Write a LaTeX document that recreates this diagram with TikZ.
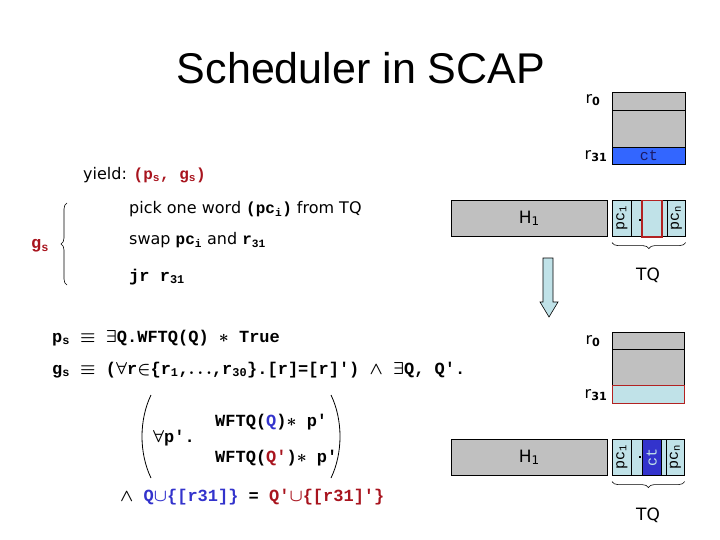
\documentclass[tikz,border=0pt]{standalone}
\usepackage{fontspec}
\setmainfont{DejaVu Sans}
\setmonofont{Liberation Mono}
\newfontfamily\titlefont{Liberation Sans}
\usetikzlibrary{decorations.pathreplacing}
\definecolor{regGray}{HTML}{C0C0C0}
\definecolor{tqBlue}{HTML}{C0E2E8}
\definecolor{ctBlue}{HTML}{3366FF}
\definecolor{ctDark}{HTML}{3333CC}
\definecolor{ctText}{HTML}{1A1A66}
\definecolor{hiRed}{HTML}{B22222}
\definecolor{txtRed}{HTML}{A8141E}
\definecolor{txtBlue}{HTML}{3333CC}
\newcommand{\code}{\ttfamily\bfseries\boldmath}
\newcommand{\sbs}[1]{\textsubscript{#1}}
\tikzset{
  cell/.style={draw, line width=0.6pt, inner sep=0pt, anchor=north west},
  gray/.style={cell, fill=regGray},
  tq/.style={cell, fill=tqBlue, font=\fontsize{15}{15}\selectfont\ttfamily},
  reglabel/.style={inner sep=0pt, font=\fontsize{16}{16}\selectfont},
  txt/.style={anchor=west, inner sep=0pt, font=\fontsize{16}{18}\selectfont},
  codeline/.style={anchor=west, inner sep=0pt, font=\fontsize{17}{19}\selectfont\code},
  brc/.style={decorate, decoration={brace, amplitude=6pt}, line width=0.6pt},
}
\begin{document}
\begin{tikzpicture}[x=1pt, y=-1pt]
  \useasboundingbox (0,0) rectangle (720,540);

  % ---- title and yield text ----------------------------------------------
  \node[inner sep=0pt, font=\fontsize{43}{43}\selectfont\titlefont] (title) at (361,68) {Scheduler in SCAP};
  \node[txt] (yield) at (83,175) {yield: {\color{txtRed}\code (p\sbs{s}, g\sbs{s})}};
  \node[txt] (pick) at (129,209) {pick one word {\code(pc\sbs{i})} from TQ};
  \node[txt] (swap) at (129,240) {swap {\code pc\sbs{i}} and {\code r\sbs{31}}};
  \node[codeline] (jr) at (129,277) {jr r\sbs{31}};
  \node[codeline, text=txtRed] (gsname) at (31,246) {g\sbs{s}};
  \draw[brc] (67,285) -- (67,203);

  % ---- registers and heap, before ----------------------------------------
  \node[gray, minimum width=73pt, minimum height=18pt] (r0a) at (612,92) {};
  \node[gray, minimum width=73pt, minimum height=37pt] (rma) at (612,110) {};
  \node[cell, fill=ctBlue, text=ctText, minimum width=73pt, minimum height=17pt,
        font=\fontsize{15}{15}\selectfont\ttfamily] (r31a) at (612,147) {ct};
  \node[reglabel] (r0la) at (593,100) {r\sbs{\textbf{0}}};
  \node[reglabel] (r31la) at (596,156) {r\sbs{\textbf{31}}};

  \node[gray, minimum width=156pt, minimum height=36pt, font=\fontsize{17}{17}\selectfont] (hA) at (451,200) {H\sbs{1}};
  \node[tq, minimum width=19pt, minimum height=36pt] (pc1A) at (612,200) {\rotatebox{90}{pc\sbs{1}}};
  \node[tq, minimum width=36pt, minimum height=36pt] (midA) at (631,200) {};
  \node[tq, minimum width=18pt, minimum height=36pt] (pcnA) at (667,200) {\rotatebox{90}{pc\sbs{n}}};
  \node[cell, draw=hiRed, line width=1.5pt, minimum width=20pt, minimum height=36pt] (pickA) at (641,200) {};
  \fill (639,219) rectangle (641,221);
  \draw[brc] ([yshift=-6pt]pcnA.south east) -- ([yshift=-6pt]pc1A.south west);
  \node[reglabel, font=\fontsize{17}{17}\selectfont] (tqA) at (648,275) {TQ};

  % ---- step arrow ----------------------------------------------------------
  \draw[fill=tqBlue, line width=0.6pt] (543,258) -- (553,258) -- (553,302) -- (558,302)
        -- (549,317) -- (540,302) -- (543,302) -- cycle;

  % ---- formulas ------------------------------------------------------------
  \node[codeline] (ps) at (52,338) {p\sbs{s} $\equiv$ $\exists$Q.WFTQ(Q) $\ast$ True};
  \node[codeline] (gs) at (52,370) {g\sbs{s} $\equiv$ ($\forall$r$\in$\{r\sbs{1},$\ldots$,r\sbs{30}\}.[r]=[r]') $\wedge$ $\exists$Q, Q'.};
  \node[codeline] (allp) at (153,438) {$\forall$p'.};
  \node[codeline] (wfq) at (215,422) {WFTQ({\color{txtBlue}Q})$\ast$ p'};
  \node[codeline] (wfqp) at (215,458) {WFTQ({\color{txtRed}Q'})$\ast$ p'};
  \draw[line width=0.8pt] (151,395) .. controls (139,420) and (139,453) .. (151,478);
  \draw[line width=0.8pt] (331,395) .. controls (343,420) and (343,453) .. (331,478);
  \node[codeline] (eqQ) at (120,497) {$\wedge$ {\color{txtBlue}Q$\cup$\{[r31]\}} = {\color{txtRed}Q'$\cup$\{[r31]'\}}};

  % ---- registers and heap, after -------------------------------------------
  \node[gray, minimum width=72pt, minimum height=17pt] (r0b) at (612,332) {};
  \node[gray, minimum width=72pt, minimum height=36pt] (rmb) at (612,349) {};
  \node[cell, fill=tqBlue, draw=hiRed, line width=1.2pt, minimum width=72pt, minimum height=18pt] (r31b) at (612,385) {};
  \node[reglabel] (r0lb) at (593,341) {r\sbs{\textbf{0}}};
  \node[reglabel] (r31lb) at (596,395) {r\sbs{\textbf{31}}};

  \node[gray, minimum width=156pt, minimum height=36pt, font=\fontsize{17}{17}\selectfont] (hB) at (451,439) {H\sbs{1}};
  \node[tq, minimum width=19pt, minimum height=36pt] (pc1B) at (612,439) {\rotatebox{90}{pc\sbs{1}}};
  \node[tq, minimum width=35pt, minimum height=36pt] (midB) at (631,439) {};
  \node[tq, minimum width=18pt, minimum height=36pt] (pcnB) at (666,439) {\rotatebox{90}{pc\sbs{n}}};
  \node[cell, fill=ctDark, text=tqBlue, minimum width=19pt, minimum height=36pt,
        font=\fontsize{15}{15}\selectfont\ttfamily] (ctB) at (642,439) {\rotatebox{90}{ct}};
  \fill (639,456) rectangle (641,458);
  \draw[brc] ([yshift=-6pt]pcnB.south east) -- ([yshift=-6pt]pc1B.south west);
  \node[reglabel, font=\fontsize{17}{17}\selectfont] (tqB) at (648,515) {TQ};
\end{tikzpicture}
\end{document}
